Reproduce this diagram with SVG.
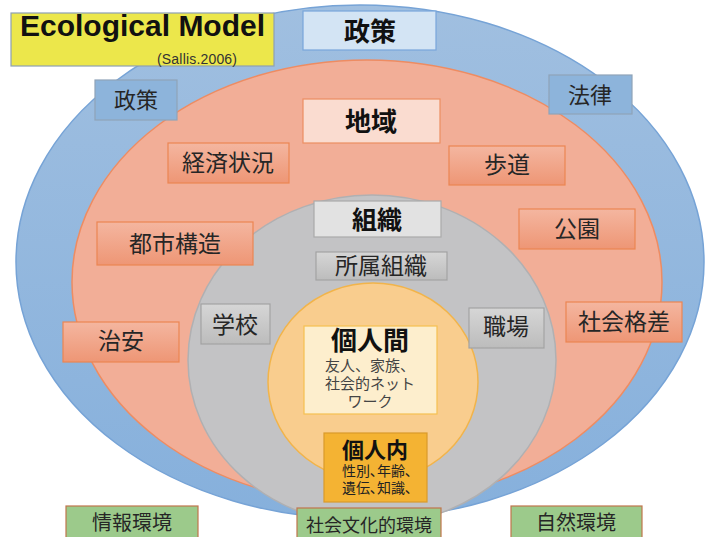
<svg xmlns="http://www.w3.org/2000/svg" width="708" height="537" viewBox="0 0 708 537">
<defs>
<linearGradient id="gSalmon" x1="0" y1="0" x2="0" y2="1"><stop offset="0" stop-color="#F4B6A0"/><stop offset="1" stop-color="#EE9675"/></linearGradient>
<linearGradient id="gGray" x1="0" y1="0" x2="0" y2="1"><stop offset="0" stop-color="#D6D6D6"/><stop offset="1" stop-color="#BCBCBC"/></linearGradient>
<linearGradient id="gBlueEl" x1="0" y1="0" x2="0" y2="1"><stop offset="0" stop-color="#A0BFE0"/><stop offset="1" stop-color="#86B0DC"/></linearGradient>
</defs>
<style>
text{font-family:"Noto Sans CJK JP","Noto Sans",sans-serif;fill:#262626;text-anchor:middle}
.b{font-weight:bold;fill:#111}
.salmon{fill:url(#gSalmon);stroke:#EC8552;stroke-width:1.2}
.grayb{fill:url(#gGray);stroke:#A3A3A3;stroke-width:1.2}
.blueb{fill:#8DB4DB;stroke:#8FA3B8;stroke-width:1.2}
.green{fill:#9CCA8B;stroke:#C0754C;stroke-width:1.2}
.n{font-size:23px}
.g{font-size:20px}
.palt{font-feature-settings:"palt"}
</style>
<g id="layers">
<ellipse cx="360" cy="262" rx="344" ry="257" fill="url(#gBlueEl)" stroke="#76A3D6" stroke-width="1.5"/>
<ellipse cx="367" cy="282" rx="295" ry="222" fill="#F2AE97" stroke="#EE8C62" stroke-width="1.5"/>
<ellipse cx="372" cy="360" rx="184" ry="165" fill="#C3C3C5" stroke="#B0B0B2" stroke-width="1.5"/>
<ellipse cx="373" cy="382" rx="105" ry="99" fill="#F9CD8E" stroke="#F2B44A" stroke-width="1.5"/>
</g>
<g id="connectors"/>
<g id="title">
<rect x="11" y="13" width="263" height="53" fill="#ECE74B" stroke="#8EA0B3" stroke-width="1.2"/>
<text x="20" y="36" style="font-family:'Liberation Sans',Arial,sans-serif;font-size:30px;font-weight:bold;fill:#111;text-anchor:start">Ecological Model</text>
<text x="157" y="64" style="font-family:'Liberation Sans',Arial,sans-serif;font-size:14px;fill:#333;text-anchor:start" textLength="80">(Sallis.2006)</text>
</g>
<g id="seisaku-top">
<rect x="303" y="11" width="133" height="39" fill="#D3E4F4" stroke="#79A6DA" stroke-width="1.2"/>
<text x="370" y="41" class="b" font-size="26">政策</text>
</g>
<g id="chiiki">
<rect x="303" y="99" width="137" height="44" fill="#FADCD0" stroke="#EC8E62" stroke-width="1.2"/>
<text x="371" y="131" class="b" font-size="26">地域</text>
</g>
<g id="seisaku-left">
<rect x="95" y="80" width="82" height="40" class="blueb"/>
<text x="136" y="108" font-size="22">政策</text>
</g>
<g id="houritsu">
<rect x="549" y="75" width="83" height="39" class="blueb"/>
<text x="590" y="103" font-size="22">法律</text>
</g>
<g id="keizai">
<rect x="168" y="143" width="121" height="40" class="salmon"/>
<text x="228" y="171" class="n">経済状況</text>
</g>
<g id="hodou">
<rect x="449" y="146" width="116" height="39" class="salmon"/>
<text x="507" y="173" class="n">歩道</text>
</g>
<g id="toshi">
<rect x="97" y="222" width="156" height="43" class="salmon"/>
<text x="175" y="252" class="n">都市構造</text>
</g>
<g id="kouen">
<rect x="519" y="209" width="116" height="40" class="salmon"/>
<text x="577" y="237" class="n">公園</text>
</g>
<g id="chian">
<rect x="63" y="322" width="116" height="40" class="salmon"/>
<text x="121" y="349" class="n">治安</text>
</g>
<g id="kakusa">
<rect x="566" y="302" width="116" height="40" class="salmon"/>
<text x="624" y="330" class="n">社会格差</text>
</g>
<g id="soshiki">
<rect x="314" y="201" width="127" height="36" fill="#E2E2E2" stroke="#AAAAAA" stroke-width="1.2"/>
<text x="377" y="229" class="b" font-size="25">組織</text>
</g>
<g id="shozoku">
<rect x="316" y="252" width="131" height="28" class="grayb"/>
<text x="381" y="274" class="n">所属組織</text>
</g>
<g id="gakkou">
<rect x="201" y="304" width="69" height="40" class="grayb"/>
<text x="235" y="333" class="n">学校</text>
</g>
<g id="shokuba">
<rect x="469" y="308" width="75" height="40" class="grayb"/>
<text x="506" y="335" class="n">職場</text>
</g>
<g id="kojinkan">
<rect x="304" y="326" width="133" height="88" fill="#FDEECD" stroke="#F6C050" stroke-width="1.2"/>
<text x="370" y="350"><tspan class="b" font-size="26">個人間</tspan><tspan x="370" y="371" font-size="15" fill="#444">友人、家族、</tspan><tspan x="370" y="389" font-size="15" fill="#444">社会的ネット</tspan><tspan x="370" y="407" font-size="15" fill="#444">ワーク</tspan></text>
</g>
<g id="kojinnai">
<rect x="324" y="433" width="103" height="69" fill="#F4B333" stroke="#D99A2A" stroke-width="1.2"/>
<text x="375" y="458"><tspan class="b" font-size="22">個人内</tspan><tspan x="377" y="476" font-size="14" class="palt" fill="#222">性別、年齢、</tspan><tspan x="377" y="493" font-size="14" class="palt" fill="#222">遺伝、知識、</tspan></text>
</g>
<g id="jouhou">
<rect x="66" y="506" width="132" height="36" class="green"/>
<text x="132" y="530" class="g">情報環境</text>
</g>
<g id="shakai-bunka">
<rect x="297" y="508" width="144" height="34" class="green"/>
<text x="369" y="532" font-size="18">社会文化的環境</text>
</g>
<g id="shizen">
<rect x="511" y="506" width="131" height="36" class="green"/>
<text x="576" y="530" class="g">自然環境</text>
</g>
</svg>
